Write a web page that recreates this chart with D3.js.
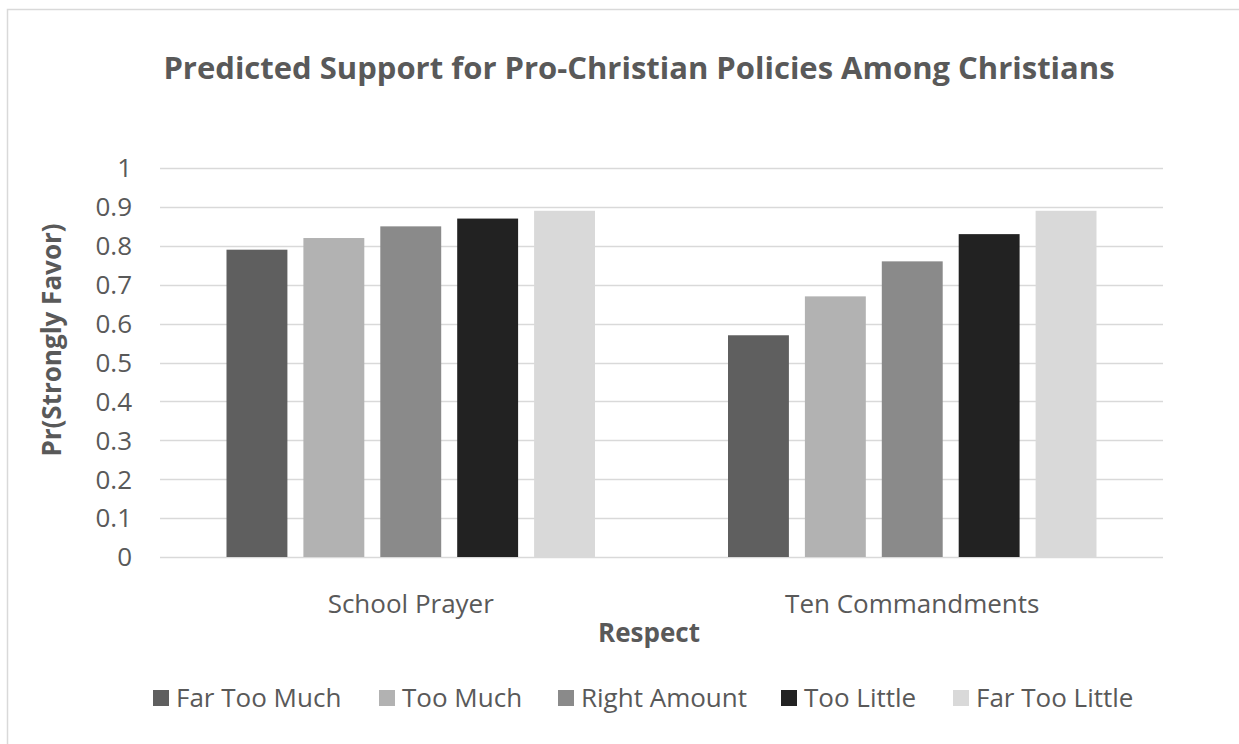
<!DOCTYPE html>
<html><head><meta charset="utf-8">
<script src="https://cdn.jsdelivr.net/npm/d3@7"></script>
<style>html,body{margin:0;padding:0;background:#fff;}svg{display:block;font-family:"Open Sans",sans-serif;}</style>
</head><body>
<script>
const categories = ["School Prayer", "Ten Commandments"];
const seriesNames = ["Far Too Much", "Too Much", "Right Amount", "Too Little", "Far Too Little"];
const seriesColors = ["#5f5f5f", "#b2b2b2", "#8a8a8a", "#222222", "#d9d9d9"];
const farTooMuch = [0.79, 0.57];
const tooMuch = [0.82, 0.67];
const rightAmount = [0.85, 0.76];
const tooLittle = [0.87, 0.83];
const farTooLittle = [0.89, 0.89];
const yTicks = [0, 0.1, 0.2, 0.3, 0.4, 0.5, 0.6, 0.7, 0.8, 0.9, 1];
const seriesValues = [farTooMuch, tooMuch, rightAmount, tooLittle, farTooLittle];

const W = 1239, H = 744;
const svg = d3.select("body").append("svg").attr("width", W).attr("height", H);
svg.append("rect").attr("x", 7.5).attr("y", 9.5).attr("width", 1400).attr("height", 900)
  .attr("fill", "#fff").attr("stroke", "#d9d9d9").attr("stroke-width", 1.5);

const plot = {left: 160, right: 1163, top: 168, bottom: 557};
const y = d3.scaleLinear().domain([0, 1]).range([plot.bottom, plot.top]);
const x0 = d3.scaleBand().domain(categories).range([plot.left, plot.right]).paddingInner(0).paddingOuter(0);
const bw = x0.bandwidth();
const outer = 66.5;
const x1 = d3.scaleBand().domain(seriesNames).range([outer, bw - outer]).paddingInner(0.208).paddingOuter(0);

// gridlines
svg.append("g").selectAll("line").data(yTicks).join("line")
  .attr("x1", plot.left).attr("x2", plot.right)
  .attr("y1", d => Math.round(y(d)) + 0.5).attr("y2", d => Math.round(y(d)) + 0.5)
  .attr("stroke", "#d9d9d9").attr("stroke-width", 1.3);

// y tick labels
svg.append("g").selectAll("text").data(yTicks).join("text")
  .attr("x", 132).attr("y", d => y(d)).attr("dy", "0.36em")
  .attr("text-anchor", "end").attr("font-size", 26).attr("fill", "#595959")
  .text(d => d3.format("~g")(d));

// bars
const data = [];
seriesNames.forEach((s, i) => categories.forEach((c, j) => data.push({s, c, v: seriesValues[i][j], color: seriesColors[i]})));
svg.append("g").selectAll("rect").data(data).join("rect")
  .attr("x", d => x0(d.c) + x1(d.s)).attr("width", x1.bandwidth())
  .attr("y", d => y(d.v)).attr("height", d => y(0) - y(d.v))
  .attr("fill", d => d.color);

// category labels
svg.append("g").selectAll("text").data(categories).join("text")
  .attr("x", d => x0(d) + bw / 2).attr("y", 613)
  .attr("text-anchor", "middle").attr("font-size", 26).attr("fill", "#595959").text(d => d);

// axis titles
svg.append("text").attr("x", 649).attr("y", 642)
  .attr("text-anchor", "middle").attr("font-size", 26).attr("font-weight", "bold").attr("fill", "#595959").text("Respect");
svg.append("text").attr("transform", `translate(61,340) rotate(-90)`)
  .attr("text-anchor", "middle").attr("font-size", 26).attr("font-weight", "bold").attr("fill", "#595959").text("Pr(Strongly Favor)");

// title
svg.append("text").attr("x", 639).attr("y", 79)
  .attr("text-anchor", "middle").attr("font-size", 31).attr("font-weight", "bold").attr("fill", "#595959")
  .text("Predicted Support for Pro-Christian Policies Among Christians");

// legend
const legendX = [153, 379, 558, 781, 953];
const lg = svg.append("g").selectAll("g").data(seriesNames).join("g")
  .attr("transform", (d, i) => `translate(${legendX[i]},0)`);
lg.append("rect").attr("x", 0).attr("y", 690).attr("width", 16).attr("height", 16)
  .attr("fill", (d, i) => seriesColors[i]);
lg.append("text").attr("x", 23).attr("y", 707).attr("font-size", 26).attr("fill", "#595959").text(d => d);
</script>
</body></html>
